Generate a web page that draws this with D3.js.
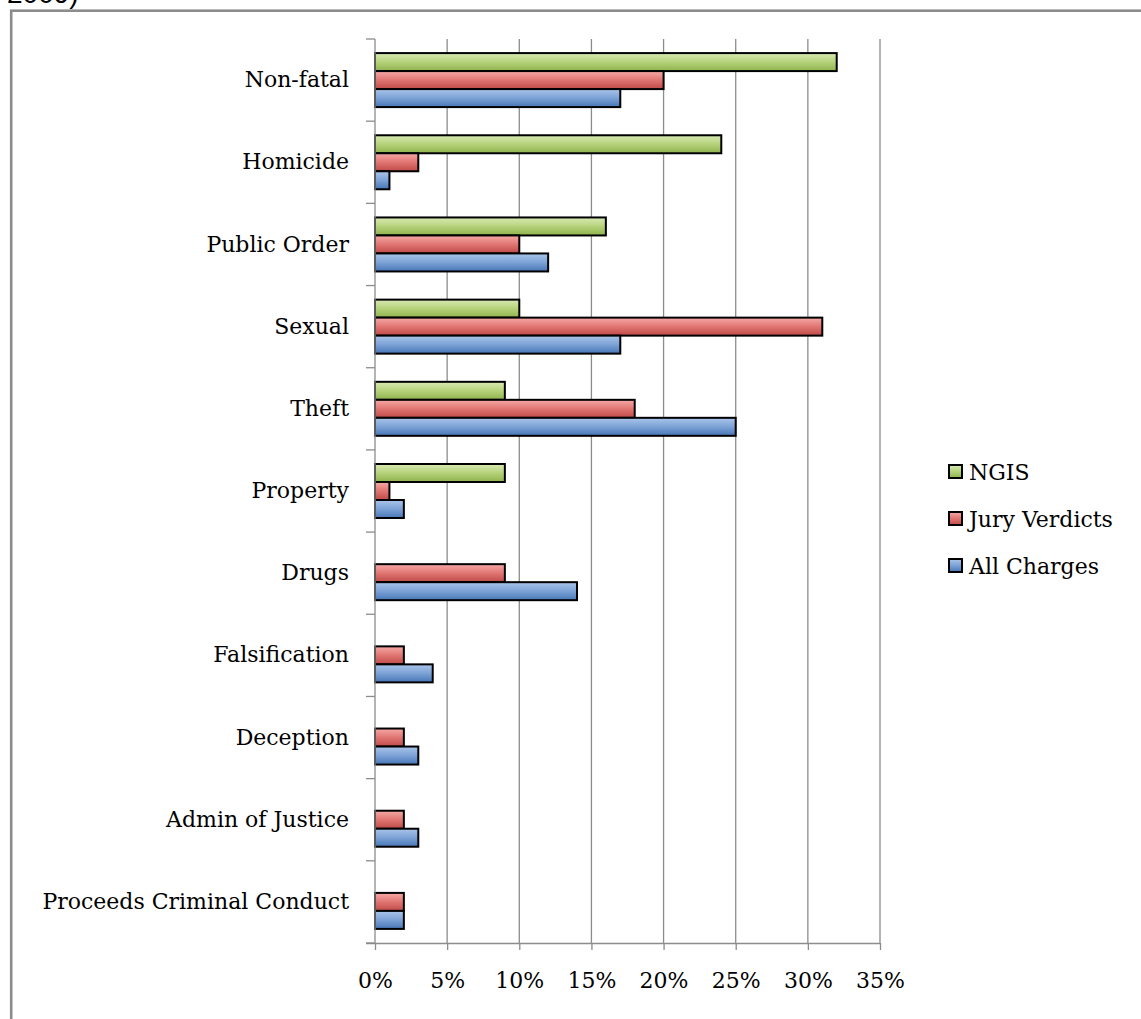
<!DOCTYPE html>
<html>
<head>
<meta charset="utf-8">
<script src="https://cdn.jsdelivr.net/npm/d3@7"></script>
<style>
  html, body { margin: 0; padding: 0; background: #fff; }
  svg { display: block; }
  text { font-family: "DejaVu Serif", "Liberation Serif", serif; fill: #000; }
</style>
</head>
<body>
<svg id="chart" width="1141" height="1019"></svg>
<script>
// Offence categories, top to bottom
const categories = [
  "Non-fatal", "Homicide", "Public Order", "Sexual", "Theft", "Property",
  "Drugs", "Falsification", "Deception", "Admin of Justice", "Proceeds Criminal Conduct"
];
// Series, drawn top to bottom within each category
const seriesNames = ["NGIS", "Jury Verdicts", "All Charges"];
// Share of each series falling in each category (percent)
const ngis         = [32, 24, 16, 10,  9, 9,  0, 0, 0, 0, 0];
const juryVerdicts = [20,  3, 10, 31, 18, 1,  9, 2, 2, 2, 2];
const allCharges   = [17,  1, 12, 17, 25, 2, 14, 4, 3, 3, 2];
const seriesValues = [ngis, juryVerdicts, allCharges];
const xTicks = [0, 5, 10, 15, 20, 25, 30, 35];

const gradients = {
  "NGIS":          ["#d9eab4", "#b5d27a", "#8fb24c"],
  "Jury Verdicts": ["#f6aaa7", "#e07572", "#bf4a47"],
  "All Charges":   ["#aac5ea", "#7ca2d6", "#4676b6"]
};

const svg = d3.select("#chart");
const defs = svg.append("defs");
seriesNames.forEach((name, i) => {
  const g = defs.append("linearGradient")
    .attr("id", "grad" + i)
    .attr("x1", 0).attr("y1", 0).attr("x2", 0).attr("y2", 1);
  g.append("stop").attr("offset", "0%").attr("stop-color", gradients[name][0]);
  g.append("stop").attr("offset", "50%").attr("stop-color", gradients[name][1]);
  g.append("stop").attr("offset", "100%").attr("stop-color", gradients[name][2]);
});

// Caption fragment above the frame
svg.append("text")
  .attr("x", 7).attr("y", 3)
  .style("font-family", "'Liberation Sans', Arial, sans-serif")
  .style("font-size", "28px")
  .text("2009)");

// Outer frame
svg.append("rect")
  .attr("x", 11.2).attr("y", 10.7)
  .attr("width", 1200).attr("height", 1100)
  .attr("fill", "none")
  .attr("stroke", "#8c8c8c")
  .attr("stroke-width", 2.6);

const plot = { left: 375, right: 880, top: 39, bottom: 943 };

const x = d3.scaleLinear().domain([0, 35]).range([plot.left, plot.right]);
const y = d3.scaleBand().domain(categories).range([plot.top, plot.bottom]).padding(0);
const bandH = y.bandwidth();
const barTotal = 54;
const ySub = d3.scaleBand().domain(seriesNames)
  .range([(bandH - barTotal) / 2, (bandH + barTotal) / 2]).padding(0);

// Vertical gridlines
svg.append("g")
  .selectAll("line")
  .data(xTicks.slice(1))
  .join("line")
  .attr("x1", d => x(d)).attr("x2", d => x(d))
  .attr("y1", plot.top).attr("y2", plot.bottom)
  .attr("stroke", "#8c8c8c").attr("stroke-width", 1.3);

// Bars
const rows = [];
categories.forEach((c, ci) => {
  seriesNames.forEach((s, si) => {
    rows.push({ category: c, series: s, si, value: seriesValues[si][ci] });
  });
});
svg.append("g")
  .selectAll("rect")
  .data(rows.filter(d => d.value > 0))
  .join("rect")
  .attr("x", x(0))
  .attr("y", d => y(d.category) + ySub(d.series))
  .attr("width", d => x(d.value) - x(0))
  .attr("height", ySub.bandwidth())
  .attr("fill", d => "url(#grad" + d.si + ")")
  .attr("stroke", "#000")
  .attr("stroke-width", 2);

// Category axis
const yAxis = svg.append("g")
  .attr("transform", `translate(${plot.left},0)`)
  .call(d3.axisLeft(y).tickSize(0).tickPadding(26));
yAxis.select(".domain").remove();
yAxis.selectAll("text")
  .style("font-size", "22px")
  .attr("fill", "#000");
// Category separators
const sepY = categories.map(c => y(c)).concat([plot.bottom]);
svg.append("g").selectAll("line")
  .data(sepY)
  .join("line")
  .attr("x1", plot.left - 9).attr("x2", plot.left)
  .attr("y1", d => d).attr("y2", d => d)
  .attr("stroke", "#8c8c8c").attr("stroke-width", 1.3);
svg.append("line")
  .attr("x1", plot.left).attr("x2", plot.left)
  .attr("y1", plot.top).attr("y2", plot.bottom)
  .attr("stroke", "#8c8c8c").attr("stroke-width", 1.3);

// Value axis
const xAxis = svg.append("g")
  .attr("transform", `translate(0,${plot.bottom})`)
  .call(d3.axisBottom(x).tickValues(xTicks).tickFormat(d => d + "%")
    .tickSizeInner(7).tickSizeOuter(0).tickPadding(22));
xAxis.select(".domain")
  .attr("d", `M${plot.left - 9},0.5H${plot.right}`)
  .attr("stroke", "#8c8c8c").attr("stroke-width", 1.3);
xAxis.selectAll(".tick line").attr("stroke", "#8c8c8c").attr("stroke-width", 1.3);
xAxis.selectAll("text").style("font-size", "22px").attr("fill", "#000");

// Legend
const legend = svg.append("g").attr("transform", "translate(949,472)");
seriesNames.forEach((s, i) => {
  const g = legend.append("g").attr("transform", `translate(0,${i * 47})`);
  g.append("rect")
    .attr("x", 0).attr("y", -7).attr("width", 13).attr("height", 13)
    .attr("fill", "url(#grad" + i + ")")
    .attr("stroke", "#000").attr("stroke-width", 2);
  g.append("text")
    .attr("x", 20).attr("y", 0).attr("dy", "0.35em")
    .style("font-size", "22px")
    .text(s);
});
</script>
</body>
</html>
